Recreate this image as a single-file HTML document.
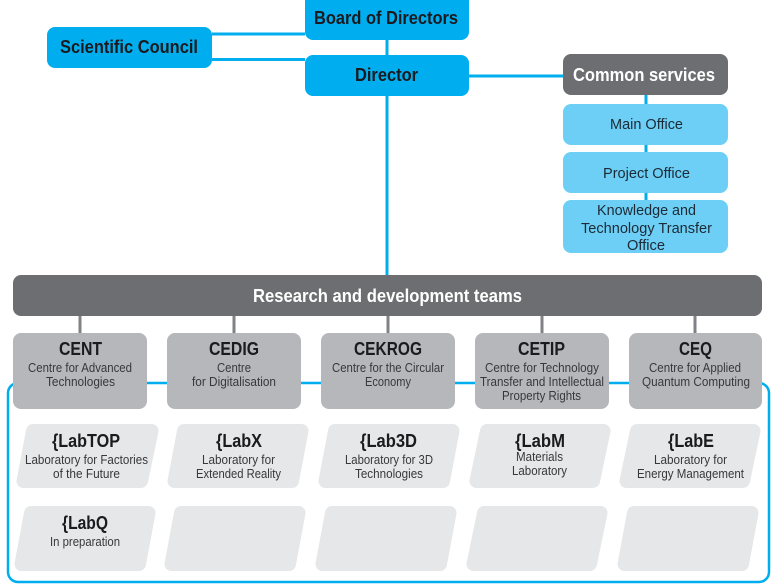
<!DOCTYPE html>
<html>
<head>
<meta charset="utf-8">
<style>
html,body{margin:0;padding:0;background:#fff;width:776px;height:588px;overflow:hidden}
svg{display:block}
text{font-family:"Liberation Sans",sans-serif;fill:#1a1a1f}
.h{font-size:18px;font-weight:bold}
.w{fill:#fff}
.o{font-size:15px;fill:#1c2a35}
.s{font-size:12.5px;fill:#38383c}
.lab{fill:#e6e7e8;stroke:#e6e7e8;stroke-width:14;stroke-linejoin:round}
</style>
</head>
<body>
<svg width="776" height="588" viewBox="0 0 776 588" xmlns="http://www.w3.org/2000/svg">
<g stroke="#00aeef" fill="none">
<path stroke-width="3" d="M212 34H305M212 59.5H305M387 40V55M387 96V275M469 76H563M646 95V200"/>
<rect stroke-width="2.5" x="8" y="383" width="761" height="199" rx="10"/>
</g>
<path d="M80 316V333M234 316V333M388 316V333M542 316V333M695 316V333" stroke="#808285" stroke-width="3" fill="none"/>

<rect x="305" y="-8" width="164" height="48" rx="8" fill="#00aeef"/>
<rect x="47" y="27" width="165" height="41" rx="8" fill="#00aeef"/>
<rect x="305" y="55" width="164" height="41" rx="8" fill="#00aeef"/>
<rect x="563" y="54" width="165" height="41" rx="8" fill="#6d6e71"/>
<rect x="563" y="104" width="165" height="41" rx="8" fill="#6dcff6"/>
<rect x="563" y="152" width="165" height="41" rx="8" fill="#6dcff6"/>
<rect x="563" y="200" width="165" height="53" rx="8" fill="#6dcff6"/>
<rect x="13" y="275" width="749" height="41" rx="8" fill="#6d6e71"/>

<g fill="#b6b7ba">
<rect x="13" y="333" width="134" height="76" rx="8"/>
<rect x="167" y="333" width="134" height="76" rx="8"/>
<rect x="321" y="333" width="134" height="76" rx="8"/>
<rect x="475" y="333" width="134" height="76" rx="8"/>
<rect x="629" y="333" width="133" height="76" rx="8"/>
</g>

<polygon class="lab" points="33,431 151.5,431 141,481 23.5,481"/>
<polygon class="lab" points="184,431 301.5,431 292,481 174.5,481"/>
<polygon class="lab" points="335,431 452.5,431 443,481 325.5,481"/>
<polygon class="lab" points="487,431 603.5,431 593,481 476.5,481"/>
<polygon class="lab" points="637,431 753.5,431 743,481 626.5,481"/>
<polygon class="lab" points="31,513 148.5,513 139,564 21.5,564"/>
<polygon class="lab" points="181,513 298.5,513 289,564 171.5,564"/>
<polygon class="lab" points="332,513 449.5,513 440,564 322.5,564"/>
<polygon class="lab" points="484,513 600.5,513 590,564 473.5,564"/>
<polygon class="lab" points="634,513 751.5,513 742,564 624.5,564"/>

<text class="h" x="314" y="24" textLength="144" lengthAdjust="spacingAndGlyphs">Board of Directors</text>
<text class="h" x="60" y="53" textLength="138" lengthAdjust="spacingAndGlyphs">Scientific Council</text>
<text class="h" x="355" y="81" textLength="63" lengthAdjust="spacingAndGlyphs">Director</text>
<text class="h w" x="573" y="81" textLength="142" lengthAdjust="spacingAndGlyphs">Common services</text>
<text class="h w" x="253" y="302" textLength="269" lengthAdjust="spacingAndGlyphs">Research and development teams</text>

<text class="o" x="610" y="129" textLength="73" lengthAdjust="spacingAndGlyphs">Main Office</text>
<text class="o" x="603" y="178" textLength="87" lengthAdjust="spacingAndGlyphs">Project Office</text>
<text class="o" x="597" y="215" textLength="99" lengthAdjust="spacingAndGlyphs">Knowledge and</text>
<text class="o" x="581" y="233" textLength="131" lengthAdjust="spacingAndGlyphs">Technology Transfer</text>
<text class="o" x="627" y="250" textLength="38" lengthAdjust="spacingAndGlyphs">Office</text>

<text class="h" x="59" y="355" textLength="43" lengthAdjust="spacingAndGlyphs">CENT</text>
<text class="s" x="28" y="372" textLength="104" lengthAdjust="spacingAndGlyphs">Centre for Advanced</text>
<text class="s" x="46" y="386" textLength="69" lengthAdjust="spacingAndGlyphs">Technologies</text>

<text class="h" x="209" y="355" textLength="50" lengthAdjust="spacingAndGlyphs">CEDIG</text>
<text class="s" x="217" y="372" textLength="34" lengthAdjust="spacingAndGlyphs">Centre</text>
<text class="s" x="192" y="386" textLength="84" lengthAdjust="spacingAndGlyphs">for Digitalisation</text>

<text class="h" x="354" y="355" textLength="68" lengthAdjust="spacingAndGlyphs">CEKROG</text>
<text class="s" x="332" y="372" textLength="112" lengthAdjust="spacingAndGlyphs">Centre for the Circular</text>
<text class="s" x="365" y="386" textLength="46" lengthAdjust="spacingAndGlyphs">Economy</text>

<text class="h" x="518" y="355" textLength="47" lengthAdjust="spacingAndGlyphs">CETIP</text>
<text class="s" x="485" y="372" textLength="114" lengthAdjust="spacingAndGlyphs">Centre for Technology</text>
<text class="s" x="480" y="386" textLength="124" lengthAdjust="spacingAndGlyphs">Transfer and Intellectual</text>
<text class="s" x="502" y="400" textLength="79" lengthAdjust="spacingAndGlyphs">Property Rights</text>

<text class="h" x="679" y="355" textLength="33" lengthAdjust="spacingAndGlyphs">CEQ</text>
<text class="s" x="649" y="372" textLength="92" lengthAdjust="spacingAndGlyphs">Centre for Applied</text>
<text class="s" x="642" y="386" textLength="108" lengthAdjust="spacingAndGlyphs">Quantum Computing</text>

<text class="h" x="52" y="447" textLength="68" lengthAdjust="spacingAndGlyphs">{LabTOP</text>
<text class="s" x="25" y="464" textLength="123" lengthAdjust="spacingAndGlyphs">Laboratory for Factories</text>
<text class="s" x="53" y="478" textLength="67" lengthAdjust="spacingAndGlyphs">of the Future</text>

<text class="h" x="216" y="447" textLength="46" lengthAdjust="spacingAndGlyphs">{LabX</text>
<text class="s" x="202" y="464" textLength="73" lengthAdjust="spacingAndGlyphs">Laboratory for</text>
<text class="s" x="196" y="478" textLength="85" lengthAdjust="spacingAndGlyphs">Extended Reality</text>

<text class="h" x="360" y="447" textLength="57" lengthAdjust="spacingAndGlyphs">{Lab3D</text>
<text class="s" x="345" y="464" textLength="88" lengthAdjust="spacingAndGlyphs">Laboratory for 3D</text>
<text class="s" x="355" y="478" textLength="68" lengthAdjust="spacingAndGlyphs">Technologies</text>

<text class="h" x="515" y="447" textLength="50" lengthAdjust="spacingAndGlyphs">{LabM</text>
<text class="s" x="516" y="461" textLength="47" lengthAdjust="spacingAndGlyphs">Materials</text>
<text class="s" x="512" y="475" textLength="55" lengthAdjust="spacingAndGlyphs">Laboratory</text>

<text class="h" x="668" y="447" textLength="46" lengthAdjust="spacingAndGlyphs">{LabE</text>
<text class="s" x="654" y="464" textLength="73" lengthAdjust="spacingAndGlyphs">Laboratory for</text>
<text class="s" x="637" y="478" textLength="107" lengthAdjust="spacingAndGlyphs">Energy Management</text>

<text class="h" x="62" y="529" textLength="46" lengthAdjust="spacingAndGlyphs">{LabQ</text>
<text class="s" x="50" y="546" textLength="70" lengthAdjust="spacingAndGlyphs">In preparation</text>
</svg>
</body>
</html>
